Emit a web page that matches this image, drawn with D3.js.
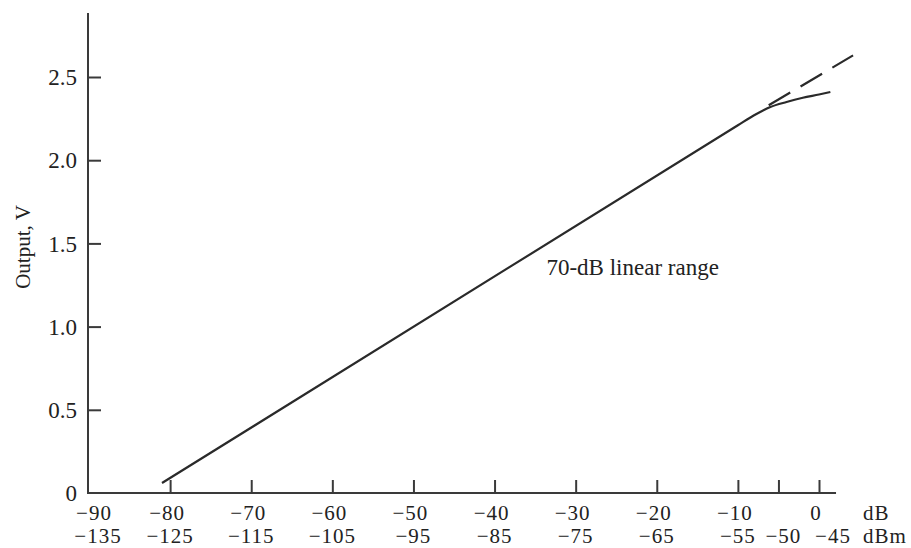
<!DOCTYPE html>
<html>
<head>
<meta charset="utf-8">
<script src="https://cdn.jsdelivr.net/npm/d3@7"></script>
<style>
  html, body { margin: 0; padding: 0; background: #fff; }
  svg text { font-family: "Liberation Serif", "Times New Roman", serif; fill: #222; }
</style>
</head>
<body>
<svg id="chart" width="911" height="548"></svg>
<script>
// ---- data ----
const dbTickValues = [-80, -70, -60, -50, -40, -30, -20, -10, -5, 0];
const dbLabelValues = [-90, -80, -70, -60, -50, -40, -30, -20, -10, 0];
const dbLabelTexts = ["−90", "−80", "−70", "−60", "−50", "−40", "−30", "−20", "−10", "0"];
const dbmLabelValues = [-90, -80, -70, -60, -50, -40, -30, -20, -10, -5, 0];
const dbmLabelTexts = ["−135", "−125", "−115", "−105", "−95", "−85", "−75", "−65", "−55", "−50", "−45"];
const vTickValues = [0, 0.5, 1.0, 1.5, 2.0, 2.5];
const vTickTexts = ["0", "0.5", "1.0", "1.5", "2.0", "2.5"];

// measured response (solid)
const responseDb = [-81, -10, -8, -6, -4, -2, 0, 1.4];
const responseV  = [0.06, 2.21, 2.27, 2.32, 2.35, 2.375, 2.395, 2.41];
// ideal linear extension (dashed)
const idealDb = [-6.2, 4.2];
const idealV  = [2.33, 2.63];

const annotationText = "70-dB linear range";
const annotationAt = { db: -33.6, v: 1.31 };
const yTitle = "Output, V";

// ---- scales ----
const svg = d3.select("#chart");
const x = d3.scaleLinear().domain([-90, 0]).range([89, 819]);
const y = d3.scaleLinear().domain([0, 2.5]).range([493, 77]);

const axisColor = "#3a3a3a";
const fontSize = 23;
const xFont = 21;

// axis lines
svg.append("line")
  .attr("x1", x(-90) - 1).attr("x2", x(-90) - 1)
  .attr("y1", y(2.885)).attr("y2", y(0) + 1)
  .attr("stroke", axisColor).attr("stroke-width", 2);
svg.append("line")
  .attr("x1", x(-90) - 2).attr("x2", x(2.1))
  .attr("y1", y(0)).attr("y2", y(0))
  .attr("stroke", axisColor).attr("stroke-width", 2);

// y axis (ticks inward)
const yAxis = d3.axisRight(y).tickValues(vTickValues.filter(v => v > 0)).tickSize(13).tickFormat("");
const gy = svg.append("g").attr("transform", `translate(${x(-90) - 1},0)`).call(yAxis);
gy.select(".domain").remove();
gy.selectAll(".tick line").attr("stroke", axisColor).attr("stroke-width", 2);

svg.append("g").selectAll("text").data(vTickValues).join("text")
  .attr("x", 77).attr("y", d => y(d))
  .attr("dy", "0.36em")
  .attr("text-anchor", "end")
  .attr("font-size", fontSize)
  .text((d, i) => vTickTexts[i]);

// x axis (ticks inward)
const xAxis = d3.axisTop(x).tickValues(dbTickValues).tickSize(13).tickFormat("");
const gx = svg.append("g").attr("transform", `translate(0,${y(0)})`).call(xAxis);
gx.select(".domain").remove();
gx.selectAll(".tick line").attr("stroke", axisColor).attr("stroke-width", 2);

// x labels, row 1 (dB)
svg.append("g").selectAll("text").data(dbLabelValues).join("text")
  .attr("x", d => x(d) + (d === -90 ? 5 : -3))
  .attr("y", 520)
  .attr("text-anchor", "middle")
  .attr("font-size", xFont)
  .attr("letter-spacing", 1)
  .text((d, i) => dbLabelTexts[i]);
svg.append("text").attr("x", x(0) + 44).attr("y", 520).attr("font-size", xFont).attr("letter-spacing", 1).text("dB");

// x labels, row 2 (dBm)
svg.append("g").selectAll("text").data(dbmLabelValues).join("text")
  .attr("x", d => x(d) + (d === 0 ? 14 : d === -5 ? 5 : d === -90 ? 9 : 0))
  .attr("y", 543)
  .attr("text-anchor", "middle")
  .attr("font-size", xFont)
  .attr("letter-spacing", 1)
  .text((d, i) => dbmLabelTexts[i]);
svg.append("text").attr("x", x(0) + 44).attr("y", 543).attr("font-size", xFont).attr("letter-spacing", 1).text("dBm");

// y title
svg.append("text")
  .attr("transform", `translate(30,247) rotate(-90)`)
  .attr("text-anchor", "middle")
  .attr("font-size", 21)
  .text(yTitle);

// lines
const solidPts = responseDb.map((d, i) => [d, responseV[i]]);
const dashPts = idealDb.map((d, i) => [d, idealV[i]]);
const lineGen = d3.line().x(d => x(d[0])).y(d => y(d[1])).curve(d3.curveMonotoneX);

svg.append("path").datum(dashPts)
  .attr("d", d3.line().x(d => x(d[0])).y(d => y(d[1])))
  .attr("fill", "none").attr("stroke", "#2a2a2a").attr("stroke-width", 2.2)
  .attr("stroke-dasharray", "25,12");
svg.append("path").datum(solidPts)
  .attr("d", lineGen)
  .attr("fill", "none").attr("stroke", "#2a2a2a").attr("stroke-width", 2.2);

// annotation
svg.append("text")
  .attr("x", x(annotationAt.db)).attr("y", y(annotationAt.v))
  .attr("font-size", fontSize)
  .text(annotationText);
</script>
</body>
</html>
